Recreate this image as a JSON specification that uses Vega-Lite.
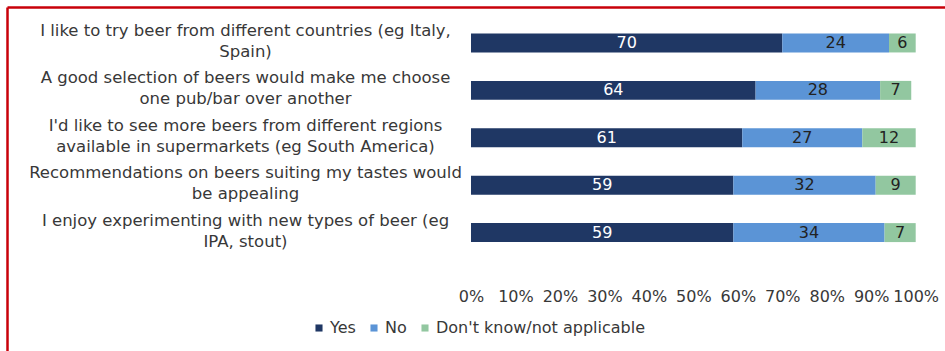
{
  "$schema": "https://vega.github.io/schema/vega-lite/v6.json",
  "autosize": {"type": "none"},
  "width": 938,
  "height": 344,
  "padding": {"left": 7, "top": 7, "right": 0, "bottom": 0},
  "background": "white",
  "config": {
    "view": {"stroke": null},
    "font": "DejaVu Sans",
    "text": {"font": "DejaVu Sans"}
  },
  "data": {
    "values": [
      {"statement": "I like to try beer from different countries (eg Italy, Spain)", "response": "Yes", "pct": 70},
      {"statement": "I like to try beer from different countries (eg Italy, Spain)", "response": "No", "pct": 24},
      {"statement": "I like to try beer from different countries (eg Italy, Spain)", "response": "Don't know/not applicable", "pct": 6},
      {"statement": "A good selection of beers would make me choose one pub/bar over another", "response": "Yes", "pct": 64},
      {"statement": "A good selection of beers would make me choose one pub/bar over another", "response": "No", "pct": 28},
      {"statement": "A good selection of beers would make me choose one pub/bar over another", "response": "Don't know/not applicable", "pct": 7},
      {"statement": "I'd like to see more beers from different regions available in supermarkets (eg South America)", "response": "Yes", "pct": 61},
      {"statement": "I'd like to see more beers from different regions available in supermarkets (eg South America)", "response": "No", "pct": 27},
      {"statement": "I'd like to see more beers from different regions available in supermarkets (eg South America)", "response": "Don't know/not applicable", "pct": 12},
      {"statement": "Recommendations on beers suiting my tastes would be appealing", "response": "Yes", "pct": 59},
      {"statement": "Recommendations on beers suiting my tastes would be appealing", "response": "No", "pct": 32},
      {"statement": "Recommendations on beers suiting my tastes would be appealing", "response": "Don't know/not applicable", "pct": 9},
      {"statement": "I enjoy experimenting with new types of beer (eg IPA, stout)", "response": "Yes", "pct": 59},
      {"statement": "I enjoy experimenting with new types of beer (eg IPA, stout)", "response": "No", "pct": 34},
      {"statement": "I enjoy experimenting with new types of beer (eg IPA, stout)", "response": "Don't know/not applicable", "pct": 7}
    ]
  },
  "transform": [
    {"stack": "pct", "groupby": ["statement"], "sort": [{"field": "response", "order": "descending"}], "as": ["lo", "hi"]},
    {"calculate": "(datum.lo + datum.hi) / 2", "as": "mid"}
  ],
  "encoding": {
    "y": {
      "field": "statement",
      "type": "nominal",
      "title": null,
      "scale": {
        "domain": [
          "I like to try beer from different countries (eg Italy, Spain)",
          "A good selection of beers would make me choose one pub/bar over another",
          "I'd like to see more beers from different regions available in supermarkets (eg South America)",
          "Recommendations on beers suiting my tastes would be appealing",
          "I enjoy experimenting with new types of beer (eg IPA, stout)",
          "(hidden row)"
        ],
        "paddingInner": 0.6,
        "paddingOuter": 0.928,
        "align": 0.301,
        "round": false
      },
      "axis": {
        "orient": "left",
        "ticks": false,
        "tickSize": 0,
        "grid": false,
        "domain": true,
        "domainColor": "#c8000a",
        "domainWidth": 2.5,
        "labelAlign": "center",
        "labelBaseline": "middle",
        "labelPadding": -238,
        "labelLimit": 0,
        "labelFont": "DejaVu Sans",
        "labelFontSize": 16.5,
        "labelLineHeight": 21,
        "labelColor": "#383838",
        "labelOffset": -12,
        "labelExpr": "datum.value == 'I like to try beer from different countries (eg Italy, Spain)' ? ['I like to try beer from different countries (eg Italy,', 'Spain)'] : datum.value == 'A good selection of beers would make me choose one pub/bar over another' ? ['A good selection of beers would make me choose', 'one pub/bar over another'] : datum.value == 'Recommendations on beers suiting my tastes would be appealing' ? ['Recommendations on beers suiting my tastes would', 'be appealing'] : datum.value == 'I enjoy experimenting with new types of beer (eg IPA, stout)' ? ['I enjoy experimenting with new types of beer (eg', 'IPA, stout)'] : datum.value == \"I'd like to see more beers from different regions available in supermarkets (eg South America)\" ? [\"I'd like to see more beers from different regions\", 'available in supermarkets (eg South America)'] : ''"
      }
    }
  },
  "layer": [
    {
      "mark": {"type": "bar"},
      "encoding": {
        "x": {
          "field": "lo",
          "type": "quantitative",
          "scale": {"domain": [-104.34, 106.59], "nice": false, "zero": false},
          "axis": {"orient": "top", "title": null, "labels": false, "ticks": false, "grid": false, "domain": true, "domainColor": "#c8000a", "domainWidth": 2.5}
        },
        "x2": {"field": "hi"},
        "color": {
          "field": "response",
          "type": "nominal",
          "scale": {"domain": ["Yes", "No", "Don't know/not applicable"], "range": ["#1f3764", "#5b94d6", "#92c7a0"]},
          "legend": {
            "orient": "none",
            "legendX": 304,
            "legendY": 313,
            "direction": "horizontal",
            "title": null,
            "symbolType": "square",
            "symbolSize": 50,
            "symbolStrokeWidth": 0,
            "labelFont": "DejaVu Sans",
            "labelFontSize": 16,
            "labelColor": "#383838",
            "labelOffset": 3,
            "labelLimit": 0,
            "columnPadding": 10,
            "padding": 0
          }
        }
      }
    },
    {
      "mark": {"type": "text", "fontSize": 16, "baseline": "middle"},
      "encoding": {
        "x": {
          "field": "mid",
          "type": "quantitative",
          "axis": {"orient": "bottom", "title": null, "values": [0,10,20,30,40,50,60,70,80,90,100], "labelExpr": "datum.value + '%'", "ticks": false, "tickSize": 0, "grid": false, "domain": false, "offset": -55, "labelPadding": 0, "labelBaseline": "middle", "labelFont": "DejaVu Sans", "labelFontSize": 16, "labelColor": "#383838"}
        },
        "text": {"field": "pct", "type": "quantitative"},
        "color": {
          "condition": {"test": "datum.response == 'Yes'", "value": "white"},
          "value": "#222222"
        }
      }
    }
  ],
  "resolve": {"axis": {"x": "independent"}}
}
